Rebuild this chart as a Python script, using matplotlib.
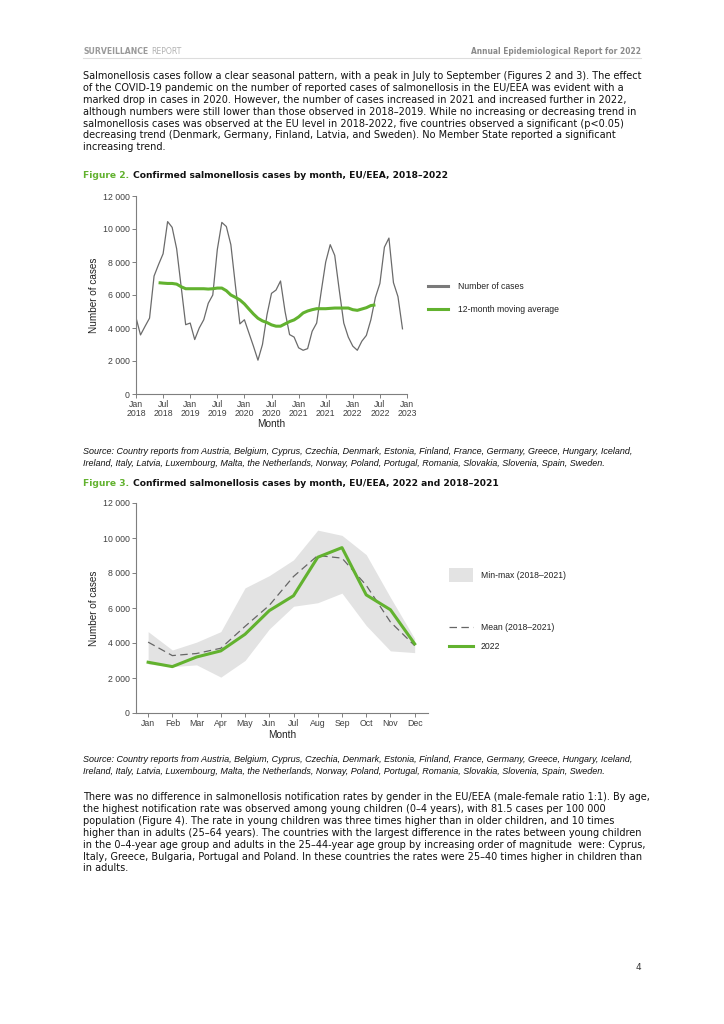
import matplotlib
matplotlib.use("Agg")
import matplotlib.pyplot as plt
from matplotlib.ticker import FuncFormatter, MultipleLocator
from matplotlib.lines import Line2D
from matplotlib.patches import Patch

# Figure 2: monthly cases Jan 2018 - Dec 2022 (month index 0..59)
cases = [4630, 3580, 4100, 4600, 7150, 7850, 8500, 10450, 10100, 8800, 6500, 4200,
         4300, 3300, 4000, 4500, 5500, 6000, 8750, 10400, 10150, 9050, 6600, 4250,
         4500, 3700, 2900, 2050, 3000, 4800, 6100, 6300, 6850, 5000, 3600, 3450,
         2800, 2650, 2750, 3800, 4300, 6200, 8000, 9050, 8400, 6300, 4300, 3450,
         2900, 2650, 3200, 3550, 4500, 5850, 6700, 8900, 9450, 6750, 5900, 3950]
# 12-month moving average, plotted from month 5 to month 53
ma_start = 5
moving_avg = [6745, 6720, 6700, 6700, 6660, 6500, 6380, 6380, 6380, 6380, 6380, 6360,
              6380, 6420, 6420, 6260, 6000, 5860, 5700, 5460, 5150, 4850, 4590, 4430,
              4330, 4190, 4110, 4110, 4250, 4390, 4490, 4670, 4910, 5030, 5110, 5170,
              5170, 5170, 5190, 5210, 5210, 5210, 5210, 5110, 5070, 5150, 5230, 5360, 5400]
tick_labels_1 = ["Jan\n2018", "Jul\n2018", "Jan\n2019", "Jul\n2019", "Jan\n2020", "Jul\n2020",
                 "Jan\n2021", "Jul\n2021", "Jan\n2022", "Jul\n2022", "Jan\n2023"]

# Figure 3: 2022 vs 2018-2021
months = ["Jan", "Feb", "Mar", "Apr", "May", "Jun", "Jul", "Aug", "Sep", "Oct", "Nov", "Dec"]
y2022 = [2900, 2650, 3200, 3550, 4500, 5850, 6700, 8900, 9450, 6750, 5900, 3950]
mean_1821 = [4050, 3280, 3400, 3700, 4950, 6150, 7800, 9000, 8850, 7300, 5200, 3850]
min_1821 = [2800, 2650, 2750, 2050, 3000, 4800, 6100, 6300, 6850, 5000, 3550, 3450]
max_1821 = [4650, 3600, 4050, 4650, 7150, 7850, 8750, 10450, 10150, 9050, 6600, 4250]

GREEN = "#62b22f"
GRAY_TXT = "#404040"
W, H = 724, 1024

fig = plt.figure(figsize=(7.24, 10.24), dpi=100)
renderer = fig.canvas.get_renderer()


def fx(x):
    return x / W


def fy(y):
    return 1 - y / H


def text(x, y, s, **kw):
    return fig.text(fx(x), fy(y), s, va="center", **kw)


def right_edge(t):
    # pixel x of the right end of a text
    return t.get_window_extent(renderer).x1


# header
text(83, 51, "SURVEILLANCE", fontsize=5.6, color="#9a9a9a", fontweight="bold", family="DejaVu Sans")
text(151, 51, "REPORT", fontsize=5.6, color="#b3b3b3", family="DejaVu Sans")
text(641, 51, "Annual Epidemiological Report for 2022", fontsize=5.45, color="#8a8a8a",
     fontweight="bold", ha="right", family="DejaVu Sans")
fig.add_artist(Line2D([fx(83), fx(641)], [fy(58), fy(58)], color="#dddddd", lw=0.8))

body_kw = dict(fontsize=7.0, color="#111111", family="DejaVu Sans")
para1 = [
    "Salmonellosis cases follow a clear seasonal pattern, with a peak in July to September (Figures 2 and 3). The effect",
    "of the COVID-19 pandemic on the number of reported cases of salmonellosis in the EU/EEA was evident with a",
    "marked drop in cases in 2020. However, the number of cases increased in 2021 and increased further in 2022,",
    "although numbers were still lower than those observed in 2018\u20132019. While no increasing or decreasing trend in",
    "salmonellosis cases was observed at the EU level in 2018-2022, five countries observed a significant (p<0.05)",
    "decreasing trend (Denmark, Germany, Finland, Latvia, and Sweden). No Member State reported a significant",
    "increasing trend.",
]
for i, line in enumerate(para1):
    text(83, 76 + i * 11.9, line, **body_kw)

title_kw = dict(fontsize=6.6, fontweight="bold", family="DejaVu Sans")


def fig_title(y, num, rest):
    t = text(83, y, num, color=GREEN, **title_kw)
    text(right_edge(t) + 4, y, rest, color="#111111", **title_kw)


fig_title(176, "Figure 2.", "Confirmed salmonellosis cases by month, EU/EEA, 2018\u20132022")

src = ["Source: Country reports from Austria, Belgium, Cyprus, Czechia, Denmark, Estonia, Finland, France, Germany, Greece, Hungary, Iceland,",
       "Ireland, Italy, Latvia, Luxembourg, Malta, the Netherlands, Norway, Poland, Portugal, Romania, Slovakia, Slovenia, Spain, Sweden."]
src_kw = dict(fontsize=6.5, style="italic", color="#111111", family="Liberation Sans")
for i, line in enumerate(src):
    text(83, 451 + i * 12.3, line, **src_kw)

fig_title(483, "Figure 3.", "Confirmed salmonellosis cases by month, EU/EEA, 2022 and 2018\u20132021")

for i, line in enumerate(src):
    text(83, 759 + i * 12.3, line, **src_kw)

para2 = [
    "There was no difference in salmonellosis notification rates by gender in the EU/EEA (male-female ratio 1:1). By age,",
    "the highest notification rate was observed among young children (0\u20134 years), with 81.5 cases per 100 000",
    "population (Figure 4). The rate in young children was three times higher than in older children, and 10 times",
    "higher than in adults (25\u201364 years). The countries with the largest difference in the rates between young children",
    "in the 0\u20134-year age group and adults in the 25\u201344-year age group by increasing order of magnitude  were: Cyprus,",
    "Italy, Greece, Bulgaria, Portugal and Poland. In these countries the rates were 25\u201340 times higher in children than",
    "in adults.",
]
for i, line in enumerate(para2):
    text(83, 797 + i * 11.9, line, **body_kw)

text(641, 968, "4", fontsize=6.5, color="#333333", ha="right", family="DejaVu Sans")

thousands = FuncFormatter(lambda v, p: f"{int(v):,}".replace(",", " "))
leg_font = dict(family="Liberation Sans", size=6.2)


def style_axes(ax):
    for s in ["top", "right"]:
        ax.spines[s].set_visible(False)
    for s in ["left", "bottom"]:
        ax.spines[s].set_color("#7f7f7f")
        ax.spines[s].set_linewidth(0.8)
    ax.tick_params(colors="#7f7f7f", labelcolor=GRAY_TXT, length=3, width=0.7, pad=1.5)
    ax.yaxis.set_major_locator(MultipleLocator(2000))
    ax.yaxis.set_major_formatter(thousands)
    ax.set_ylim(0, 12000)
    for lbl in ax.get_xticklabels() + ax.get_yticklabels():
        lbl.set_fontfamily("Liberation Sans")
        lbl.set_fontsize(6.3)
        lbl.set_linespacing(0.95)
    ax.set_ylabel("Number of cases", fontsize=7.2, family="Liberation Sans", color="#222222", labelpad=3)
    ax.set_xlabel("Month", fontsize=7.2, family="Liberation Sans", color="#222222", labelpad=1)


def side_legend(handles, x, y, spacing, hlen, hheight=0.7, pad=1.15):
    leg = fig.legend(handles=handles, loc="center left", bbox_to_anchor=(fx(x), fy(y)),
                     bbox_transform=fig.transFigure, frameon=False, prop=leg_font,
                     borderpad=0, borderaxespad=0, handlelength=hlen, handleheight=hheight,
                     handletextpad=pad, labelspacing=spacing, labelcolor="#222222")
    return leg


# Figure 2 chart
ax1 = fig.add_axes([fx(136), fy(394), fx(407) - fx(136), fy(196) - fy(394)])
ax1.plot(range(len(cases)), cases, color="#6b6b6b", lw=0.9)
ax1.plot(range(ma_start, ma_start + len(moving_avg)), moving_avg, color=GREEN, lw=2.2,
         solid_capstyle="butt")
ax1.set_xlim(0, 60)
ax1.set_xticks(range(0, 61, 6))
ax1.set_xticklabels(tick_labels_1)
style_axes(ax1)
side_legend([Line2D([], [], color="#7a7a7a", lw=2.2, label="Number of cases"),
             Line2D([], [], color=GREEN, lw=2.2, label="12-month moving average")],
            428, 298, 1.55, 2.3)

# Figure 3 chart
ax2 = fig.add_axes([fx(136), fy(713), fx(428) - fx(136), fy(503) - fy(713)])
xm = range(len(months))
ax2.fill_between(xm, min_1821, max_1821, color="#e3e3e3", lw=0)
ax2.plot(xm, mean_1821, color="#666666", lw=0.9, dashes=(6, 3.5))
ax2.plot(xm, y2022, color=GREEN, lw=2.2)
ax2.set_xlim(-0.5, 11.55)
ax2.set_xticks(list(xm))
ax2.set_xticklabels(months)
style_axes(ax2)
side_legend([Patch(facecolor="#e3e3e3", edgecolor="none", label="Min-max (2018\u20132021)")],
            449, 575, 0.5, 2.8, hheight=2.1, pad=0.9)
side_legend([Line2D([], [], color="#666666", lw=0.9, dashes=(6, 3.5), label="Mean (2018\u20132021)"),
             Line2D([], [], color=GREEN, lw=2.2, label="2022")],
            449, 637, 1.25, 2.8, pad=0.9)

fig.savefig("out.png", dpi=100)
